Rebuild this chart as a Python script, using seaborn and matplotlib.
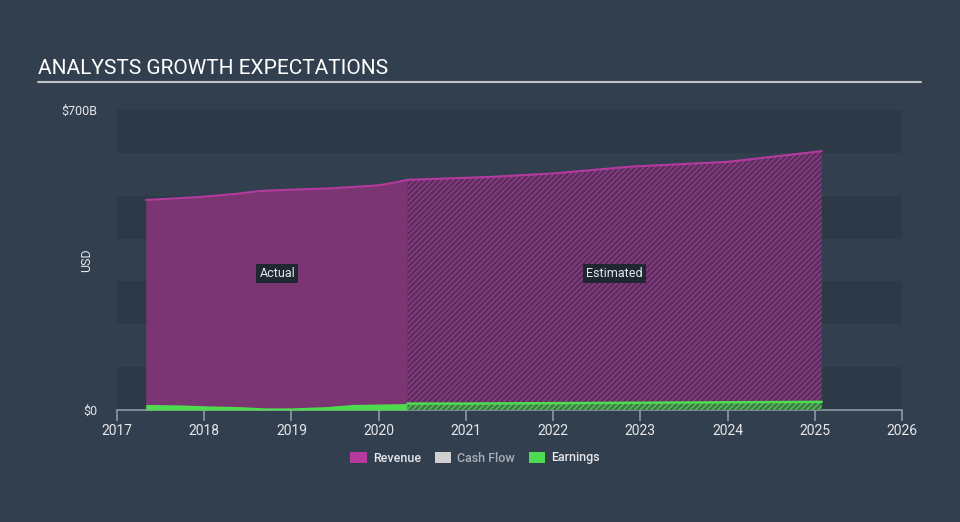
import matplotlib
matplotlib.use("Agg")
import matplotlib.pyplot as plt
from matplotlib.patches import Patch
import seaborn as sns
import pandas as pd

# ---- data (billions USD) ----
rev_actual_years = [2017.33, 2017.95, 2018.35, 2018.64, 2018.98, 2019.44, 2019.99, 2020.19, 2020.33]
rev_actual_vals = [490, 497, 504, 511, 514, 517, 524, 531, 537]
rev_est_years = [2020.33, 2021.3, 2022.0, 2022.9, 2024.0, 2025.08]
rev_est_vals = [537, 544, 552, 568, 579, 604]

earn_actual_years = [2017.33, 2017.7, 2018.0, 2018.4, 2018.7, 2019.0, 2019.4, 2019.7, 2020.0, 2020.33]
earn_actual_vals = [13, 12, 10, 8, 5, 5, 8, 13, 14, 15]
earn_est_years = [2020.33, 2021.0, 2022.0, 2023.0, 2024.0, 2025.08]
earn_est_vals = [15, 15, 16, 17, 18, 19]

x_ticks = [2017, 2018, 2019, 2020, 2021, 2022, 2023, 2024, 2025, 2026]
y_ticks = [0, 700]
y_tick_labels = ["$0", "$700B"]
legend_labels = ["Revenue", "Cash Flow", "Earnings"]

BG = "#323f4e"
BAND = "#2d3946"
REV_FILL = "#7b3572"
REV_LINE = "#b43a9e"
REV_EST_FILL = "#5a2e5c"
GREEN = "#4fdb4f"
GREEN_EST = "#3b7a45"
CASH = "#d0d0d0"
TXT = "#e6e8eb"
AX = "#8e99a5"

sns.set_theme(style="dark", rc={"axes.facecolor": BG, "figure.facecolor": BG})
plt.rcParams["font.family"] = ["Roboto", "DejaVu Sans"]
plt.rcParams["hatch.linewidth"] = 1.0

fig = plt.figure(figsize=(9.6, 5.22), dpi=100)
ax = fig.add_axes([117 / 960, 1 - 410 / 522, (902 - 117) / 960, 300 / 522])
ax.set_facecolor(BG)

# bands
for lo in [0, 200, 400, 600]:
    ax.axhspan(lo, lo + 100, color=BAND, zorder=0, lw=0)

# revenue areas
ax.fill_between(rev_actual_years, 0, rev_actual_vals, color=REV_FILL, lw=0, zorder=2)
ax.fill_between(rev_est_years, 0, rev_est_vals, facecolor=REV_EST_FILL, edgecolor="#913c89",
                hatch="//////", lw=0, zorder=2)

df_rev = pd.DataFrame({"year": rev_actual_years + rev_est_years[1:],
                       "val": rev_actual_vals + rev_est_vals[1:]})
sns.lineplot(data=df_rev, x="year", y="val", ax=ax, color=REV_LINE, lw=1.5, zorder=3)

# earnings areas
ax.fill_between(earn_actual_years, 0, earn_actual_vals, color=GREEN, lw=0, zorder=4)
ax.fill_between(earn_est_years, 0, earn_est_vals, facecolor=GREEN_EST, edgecolor="#5fc05f",
                hatch="//////", lw=0, zorder=4)
df_earn = pd.DataFrame({"year": earn_est_years, "val": earn_est_vals})
sns.lineplot(data=df_earn, x="year", y="val", ax=ax, color=GREEN, lw=1.8, zorder=5)

ax.set_xlim(2017, 2026)
ax.set_ylim(0, 700)
ax.set_xticks(x_ticks)
ax.set_xticklabels([str(t) for t in x_ticks])
ax.set_yticks(y_ticks)
ax.set_yticklabels(y_tick_labels)
ax.set_xlabel("")
ax.set_ylabel("USD", color=TXT, fontsize=9)
ax.yaxis.set_label_coords(-0.03, 0.5)

for s in ["top", "right", "left"]:
    ax.spines[s].set_visible(False)
ax.spines["bottom"].set_color(AX)
ax.spines["bottom"].set_linewidth(1.2)
ax.tick_params(axis="x", colors=AX, length=8, width=1.2, direction="out", labelcolor=TXT,
               labelsize=10, pad=2, bottom=True)
ax.tick_params(axis="y", length=0, labelcolor=TXT, labelsize=9, pad=14)
ax.grid(False)

# annotations
box = dict(boxstyle="square,pad=0.25", fc="#1e2732", ec="none")
ax.text(2018.84, 318, "Actual", color=TXT, fontsize=9, ha="center", va="center", bbox=box, zorder=6)
ax.text(2022.7, 318, "Estimated", color=TXT, fontsize=9, ha="center", va="center", bbox=box, zorder=6)

# title + underline
fig.text(38 / 960, 1 - 68 / 522, "ANALYSTS GROWTH EXPECTATIONS", color="white", fontsize=15,
         va="center", ha="left")
fig.add_artist(plt.Line2D([38 / 960, 921 / 960], [1 - 82 / 522, 1 - 82 / 522], color="#c0c4c9", lw=1.5))

# legend
handles = [Patch(facecolor=REV_LINE, edgecolor="none"),
           Patch(facecolor=CASH, edgecolor="none"),
           Patch(facecolor=GREEN, edgecolor="none")]
leg = fig.legend(handles, legend_labels, loc="center", bbox_to_anchor=(475 / 960, 1 - 458 / 522),
                 ncol=3, frameon=False, fontsize=9, handlelength=1.3, handleheight=1.0,
                 columnspacing=1.1, handletextpad=0.5)
for t, c in zip(leg.get_texts(), [TXT, "#a8afb7", TXT]):
    t.set_color(c)
    t.set_fontweight("medium")

fig.savefig("out.png", dpi=100, facecolor=BG)
